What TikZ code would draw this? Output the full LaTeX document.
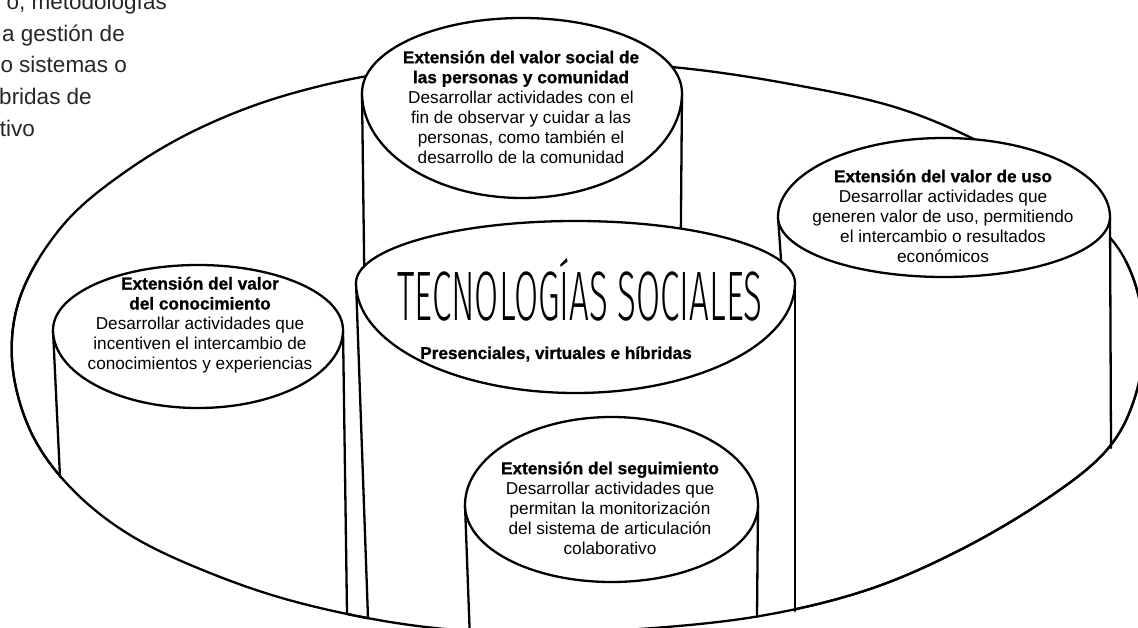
\documentclass[tikz,border=0pt]{standalone}
\usepackage{fontspec}
\setmainfont{Liberation Sans}[BoldFeatures={FakeBold=1}]
\newfontfamily\titlefont{Fira Sans Light}
\usepackage{graphicx}
\tikzset{
  outl/.style={line width=2.3pt, line join=round, line cap=round},
  capfill/.style={outl, fill=white, draw=black},
  txt/.style={align=center, inner sep=0pt, font=\fontsize{17.2}{20}\selectfont},
  sidetxt/.style={inner sep=0pt, anchor=base east, font=\fontsize{22.5}{30}\selectfont, text=black!85},
}
\newcommand\eggcap[5]{\filldraw[capfill] ({#1-#3},#2) arc[start angle=180,end angle=360,x radius=#3,y radius=#4] arc[start angle=0,end angle=180,x radius=#3,y radius=#5] -- cycle;}
\newcommand\bigellipse{\draw[outl] plot[smooth cycle, tension=0.6] coordinates {
 (290,94) (400,71) (530,63) (660,66) (790,84) (910,112) (1020,164) (1095,222) (1130,270) (1144,335) (1134,400) (1105,452) (1045,500) (960,550) (867,590) (760,616) (640,629) (520,633) (410,625) (300,603) (210,573) (130,535) (70,487) (30,430) (12,360) (22,292) (64,224) (125,172) (200,128)};}
\begin{document}
\begin{tikzpicture}[x=1pt,y=-1pt]
\useasboundingbox (0,0) rectangle (1138,628);
\clip (0,0) rectangle (1138,628);
\bigellipse

% --- social cylinder (back)
\coordinate (SL) at (362,93); \coordinate (SR) at (682,93);
\coordinate (SLb) at (365,330); \coordinate (SRb) at (680,330);
\fill[white] (SL) -- (SLb) -- (SRb) -- (SR) -- cycle;
\draw[outl] (SL) -- (SLb); \draw[outl] (SR) -- (SRb);
\eggcap{522}{93}{160}{75}{105}
\node[txt] (tS) at (521,107) {\textbf{Extensión del valor social de}\\\textbf{las personas y comunidad}\\Desarrollar actividades con el\\fin de observar y cuidar a las\\personas, como también el\\desarrollo de la comunidad};

% --- uso cylinder
\coordinate (UL) at (778,217); \coordinate (UR) at (1110,217);
\coordinate (ULb) at (786,330); \coordinate (URb) at (1111,448);
\fill[white] (UL) -- (ULb) -- (1111,330) -- (UR) -- cycle;
\draw[outl] (UL) -- (ULb); \draw[outl] (UR) -- (URb);
\eggcap{944}{217}{166}{79}{60}
\node[txt] (tU) at (943,216) {\textbf{Extensión del valor de uso}\\Desarrollar actividades que\\generen valor de uso, permitiendo\\el intercambio o resultados\\económicos};

% --- conocimiento cylinder
\coordinate (KL) at (53,330); \coordinate (KR) at (343,330);
\coordinate (KLb) at (60,477); \coordinate (KRb) at (347,613);
\fill[white] (KL) -- (KLb) -- (60,700) -- (347,700) -- (KRb) -- (KR) -- cycle;
\draw[outl] (KL) -- (KLb); \draw[outl] (KR) -- (KRb);
\eggcap{198}{330}{145}{65}{78}
\node[txt] (tK) at (200,325) {\textbf{Extensión del valor}\\\textbf{del conocimiento}\\Desarrollar actividades que\\incentiven el intercambio de\\conocimientos y experiencias};

% --- central cylinder
\coordinate (TL) at (356,282); \coordinate (TR) at (795,284);
\coordinate (TLb) at (368,618); \coordinate (TRb) at (795,611);
\fill[white] (TL) -- (TLb) -- (368,700) -- (795,700) -- (TRb) -- (TR) -- cycle;
\draw[outl] (TL) -- (TLb); \draw[outl] (TR) -- (TRb);
\eggcap{575.5}{283}{219.5}{62}{110}
\node[inner sep=0pt, anchor=base] (title) at (580,320) {\resizebox{365pt}{\height}{\fontsize{70}{70}\selectfont\titlefont TECNOLOGÍAS SOCIALES}};
\node[txt] (sub) at (556,354) {\textbf{Presenciales, virtuales e híbridas}};

% --- seguimiento cylinder (front)
\coordinate (ML) at (465,505); \coordinate (MR) at (758,505);
\coordinate (MLb) at (470,640); \coordinate (MRb) at (757,617);
\fill[white] (ML) -- (MLb) -- (757,640) -- (MRb) -- (MR) -- cycle;
\draw[outl] (ML) -- (MLb); \draw[outl] (MR) -- (MRb);
\eggcap{611.5}{505}{146.5}{88}{77}
\node[txt] (tM) at (610,508) {\textbf{Extensión del seguimiento}\\Desarrollar actividades que\\permitan la monitorización\\del sistema de articulación\\colaborativo};

% --- front part of the outer ellipse
\begin{scope}
\clip (-10,262) rectangle (1200,700);
\bigellipse
\end{scope}

% --- cut-off text at top left
\node[sidetxt] (p1) at (167,10) {o, metodologías};
\node[sidetxt] (p2) at (125,42) {a gestión de};
\node[sidetxt] (p3) at (127,73) {o sistemas o};
\node[sidetxt] (p4) at (92,105) {bridas de};
\node[sidetxt] (p5) at (35,137) {tivo};
\end{tikzpicture}
\end{document}
